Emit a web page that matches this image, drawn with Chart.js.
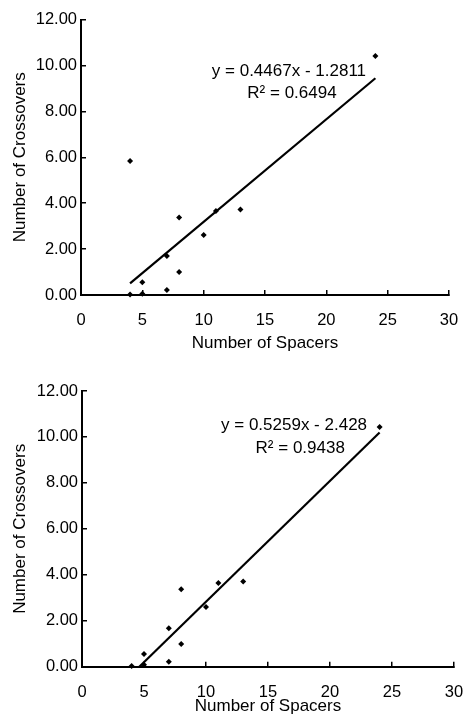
<!DOCTYPE html>
<html>
<head>
<meta charset="utf-8">
<script src="https://cdn.jsdelivr.net/npm/chart.js@4"></script>
<style>
  body { margin: 0; background: #fff; }
  canvas { position: absolute; left: 0; }
</style>
</head>
<body>
<canvas id="top" width="464" height="360" style="top:0px"></canvas>
<canvas id="bottom" width="464" height="363" style="top:360px"></canvas>
<script>
// spacers vs crossovers
var spacersAll = [4, 4, 5, 5, 7, 7, 8, 8, 10, 11, 13, 24]
var crossAll   = [5.84, 0.02, 0.55, 0.05, 0.22, 1.70, 3.38, 1.00, 2.61, 3.66, 3.72, 10.41]
// second plot drops the outlier at x=4
var spacersCut = [4, 5, 5, 7, 7, 8, 8, 10, 11, 13, 24]
var crossCut   = [0.03, 0.55, 0.08, 0.22, 1.67, 3.37, 0.99, 2.60, 3.64, 3.71, 10.43]

// trendline ends
var trendTopX = [4, 24]
var trendTopY = [0.51, 9.44]
var trendBotX = [4.62, 24]
var trendBotY = [0, 10.19]

var eqTop = ['y = 0.4467x - 1.2811', 'R\u00b2 = 0.6494']
var eqBot = ['y = 0.5259x - 2.428', 'R\u00b2 = 0.9438']

var xTicks = [0, 5, 10, 15, 20, 25, 30]
var yTicks = [0, 2, 4, 6, 8, 10, 12]

var FONT = "'Liberation Sans', Arial, sans-serif"

function pts(xs, ys) {
    var out = []
    for (var i = 0; i < xs.length; i++) out.push({x: xs[i], y: ys[i]})
    return out
}

// draws the equation text at data positions
var eqPlugin = {
    id: 'eq',
    afterDatasetsDraw: function(chart, args, opts) {
        var ctx = chart.ctx
        var xs = chart.scales.x, ys = chart.scales.y
        ctx.save()
        ctx.fillStyle = '#000'
        ctx.font = '17px ' + FONT
        ctx.textAlign = 'center'
        ctx.textBaseline = 'middle'
        for (var i = 0; i < opts.lines.length; i++) {
            ctx.fillText(opts.lines[i], xs.getPixelForValue(opts.pos[i][0]), ys.getPixelForValue(opts.pos[i][1]))
        }
        ctx.restore()
    }
}

function makeChart(id, xs, ys, tx, ty, lines, pos, box) {
    var ctx = document.getElementById(id).getContext('2d')
    return new Chart(ctx, {
        type: 'scatter',
        data: {
            datasets: [{
                data: pts(xs, ys),
                pointStyle: 'rectRot',
                pointRadius: 3,
                backgroundColor: '#000',
                borderColor: '#000',
                borderWidth: 0,
                clip: false
            }, {
                data: pts(tx, ty),
                showLine: true,
                borderColor: '#000',
                borderWidth: 2.2,
                pointRadius: 0,
                clip: false
            }]
        },
        plugins: [eqPlugin],
        options: {
            responsive: false,
            animation: false,
            events: [],
            layout: { padding: { top: box.top, right: 0, left: 0, bottom: 0 } },
            plugins: {
                legend: { display: false },
                tooltip: { enabled: false },
                eq: { lines: lines, pos: pos }
            },
            scales: {
                x: {
                    type: 'linear', min: 0, max: 30,
                    afterBuildTicks: function(s) { s.ticks = xTicks.map(function(v) { return {value: v} }) },
                    afterFit: function(s) {
                        s.height = box.xh
                        s.paddingRight = box.right
                        s.paddingLeft = 0
                    },
                    border: { color: '#000', width: 2 },
                    grid: { drawOnChartArea: false, tickLength: -5, color: '#000', lineWidth: 1.5 },
                    ticks: { padding: box.xpad, color: '#000', font: { family: FONT, size: 16.5 }, maxRotation: 0 },
                    title: { display: true, text: 'Number of Spacers', color: '#000',
                             font: { family: FONT, size: 17 }, padding: { top: 0, bottom: box.tpad } }
                },
                y: {
                    type: 'linear', min: 0, max: 12,
                    afterBuildTicks: function(s) { s.ticks = yTicks.map(function(v) { return {value: v} }) },
                    afterFit: function(s) {
                        s.width = box.yw
                        s.paddingTop = 0
                        s.paddingBottom = 0
                    },
                    border: { color: '#000', width: 2 },
                    grid: { drawOnChartArea: false, tickLength: -5, color: '#000', lineWidth: 1.5 },
                    ticks: { padding: 9, color: '#000', font: { family: FONT, size: 16.5 },
                             callback: function(v) { return v.toFixed(2) } },
                    title: { display: true, text: 'Number of Crossovers', color: '#000',
                             font: { family: FONT, size: 17 }, padding: { top: 10, bottom: 0 } }
                }
            }
        }
    })
}

makeChart('top', spacersAll, crossAll, trendTopX, trendTopY, eqTop,
    [[16.95, 9.76], [17.2, 8.8]],
    { top: 19.5, right: 15, xh: 65, xpad: 21, tpad: 6, yw: 81 })

makeChart('bottom', spacersCut, crossCut, trendBotX, trendBotY, eqBot,
    [[17.1, 10.49], [17.6, 9.52]],
    { top: 31, right: 10, xh: 56.3, xpad: 21, tpad: 6.3, yw: 82 })
</script>
</body>
</html>
